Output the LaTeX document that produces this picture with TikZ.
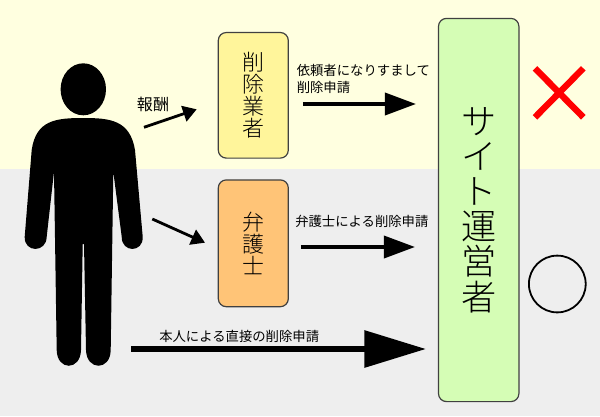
\documentclass[tikz,border=0pt]{standalone}
\usepackage{fontspec}
\setmainfont{Noto Sans CJK JP}
\newfontfamily\boxfont{Noto Sans CJK JP Light}
\usetikzlibrary{arrows.meta, calc}
\definecolor{bgyellow}{HTML}{FFFFE0}
\definecolor{bggray}{HTML}{EEEEEE}
\definecolor{gyosha}{HTML}{FFF59B}
\definecolor{bengoshi}{HTML}{FFC477}
\definecolor{site}{HTML}{D5FDB5}
\tikzset{
    my-box/.style={
        draw=black!75, line width=.3mm, rounded corners=2mm, inner sep=0pt, align=center,
        font=\boxfont\fontsize{15.6}{15.6}\selectfont
    },
    my-label/.style={
        inner sep=0pt, align=left, font=\fontsize{9.5}{12.5}\selectfont
    },
    my-small-arrow/.style={
        line width=.7mm, -{Triangle[length=3.4mm, width=4mm]}
    },
    my-big-arrow/.style={
        line width=1mm, -{Triangle[length=7.8mm, width=5.5mm]}
    },
    my-long-arrow/.style={
        line width=1.5mm, -{Triangle[length=15.4mm, width=9mm]}
    },
}

\begin{document}
\begin{tikzpicture}[x=.25mm, y=-.25mm]

        % BACKGROUND
        \useasboundingbox (0,0) rectangle (600,416);
        \fill[bgyellow] (0,0) rectangle (600,169);
        \fill[bggray]   (0,169) rectangle (600,416);

        % PERSON
        \fill (83.3,89.3) ellipse [x radius=22.7, y radius=26];
        \fill (83.3,118) .. controls (110,118) and (130,120) .. (135,150)
            -- (142.7,236.7) .. controls (143.5,253) and (121.5,253) .. (121.7,236.7)
            -- (113.3,171.7) -- (110.7,350) .. controls (110.5,371) and (86.5,371) .. (86,350)
            -- (84,244) -- (82.7,244) -- (81,350) .. controls (80.5,371) and (57,371) .. (56.7,350)
            -- (54,171.7) -- (46.7,236.7) .. controls (46.5,253) and (24,253) .. (24.7,236.7)
            -- (31.7,150) .. controls (36,120) and (56,118) .. (83.3,118) -- cycle;

        % BOXES
        \node[my-box, fill=gyosha, minimum width=17.5mm, minimum height=31.4mm] (GYOSHA)
            at (253.3,95.3) {削\\除\\業\\者};
        \node[my-box, fill=bengoshi, minimum width=17.5mm, minimum height=31.7mm] (BENGOSHI)
            at (253.3,243.3) {弁\\護\\士};
        \node[my-box, fill=site, minimum width=20.1mm, minimum height=95.8mm,
            font=\boxfont\fontsize{25}{25}\selectfont] (SITE)
            at (478.7,210) {サ\\イ\\ト\\運\\営\\者};

        % ARROW END POINTS
        \coordinate (REWARDIN)  at (144,127.3);
        \coordinate (REWARDOUT) at (196.7,109.3);
        \coordinate (HIREIN)    at (152.3,219);
        \coordinate (HIREOUT)   at (205,242.7);
        \coordinate (GYOSHAOUT) at (416,104);
        \coordinate (BENGOOUT)  at (415,247);
        \coordinate (SELFIN)    at (131,349);
        \coordinate (SELFOUT)   at (426,349);

        % ARROWS
        \draw[my-small-arrow] (REWARDIN) -- (REWARDOUT);
        \draw[my-small-arrow] (HIREIN) -- (HIREOUT);
        \draw[my-big-arrow] ($(GYOSHA.east |- GYOSHAOUT) + (14,0)$) -- (GYOSHAOUT);
        \draw[my-big-arrow] ($(BENGOSHI.east |- BENGOOUT) + (12,0)$) -- (BENGOOUT);
        \draw[my-long-arrow] (SELFIN) -- (SELFOUT);

        % LABELS
        \node[my-label, font=\fontsize{11.4}{11.4}\selectfont] (REWARD) at (153,104) {報酬};
        \node[my-label, anchor=west] (FAKE) at (296.5,79) {依頼者になりすまして\\削除申請};
        \node[my-label, anchor=west] (BENGOREQ) at (295,221) {弁護士による削除申請};
        \node[my-label, anchor=west] (SELFREQ) at (159,336) {本人による直接の削除申請};

        % MARKS
        \coordinate (CROSSA) at (535,68.3);
        \coordinate (CROSSB) at (583.3,117.3);
        \coordinate (CROSSC) at (583.3,68.3);
        \coordinate (CROSSD) at (535,117.3);
        \draw[red, line width=1.6mm] (CROSSA) -- (CROSSB);
        \draw[red, line width=1.6mm] (CROSSC) -- (CROSSD);
        \node[draw, circle, line width=.45mm, minimum size=14.2mm, inner sep=0pt] (OK) at (557.3,284) {};

    \end{tikzpicture}
\end{document}
